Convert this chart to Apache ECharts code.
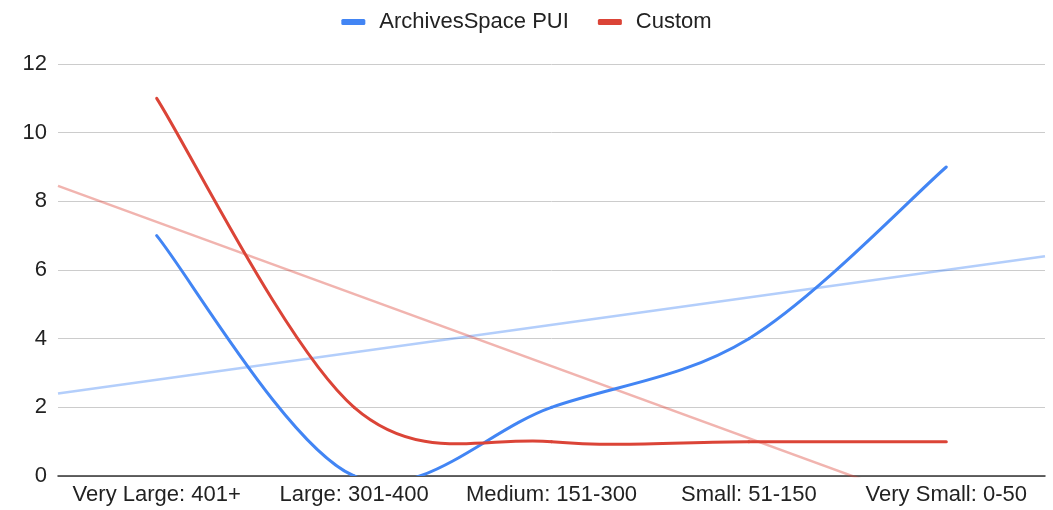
<!DOCTYPE html>
<html>
<head>
<meta charset="utf-8">
<script src="https://cdn.jsdelivr.net/npm/echarts@6/dist/echarts.min.js"></script>
<style>
html,body{margin:0;padding:0;background:#fff;}
#chart{width:1053px;height:510px;}
</style>
</head>
<body>
<div id="chart"></div>
<script>
var categories = ['Very Large: 401+', 'Large: 301-400', 'Medium: 151-300', 'Small: 51-150', 'Very Small: 0-50'];
var puiValues = [7, 0, 2, 4, 9];
var customValues = [11, 2, 1, 1, 1];
var yTicks = [0, 2, 4, 6, 8, 10, 12];

function trend(vals) {
  var n = vals.length, mx = 0, my = 0, i;
  for (i = 0; i < n; i++) { mx += i; my += vals[i]; }
  mx /= n; my /= n;
  var num = 0, den = 0;
  for (i = 0; i < n; i++) { num += (i - mx) * (vals[i] - my); den += (i - mx) * (i - mx); }
  var b = num / den, a = my - b * mx;
  return [[-0.5, a - 0.5 * b], [n - 0.5, a + (n - 0.5) * b]];
}

// Smooth (Catmull-Rom) segment renderer, positions come from the axes via api.coord
function splineRenderer(vals, color) {
  return function (params, api) {
    var i = params.dataIndex, n = vals.length;
    if (i >= n - 1) return null;
    function P(k) { k = Math.max(0, Math.min(n - 1, k)); return api.coord([k, vals[k]]); }
    var p0 = P(i - 1), p1 = P(i), p2 = P(i + 1), p3 = P(i + 2);
    return {
      type: 'bezierCurve',
      shape: {
        x1: p1[0], y1: p1[1], x2: p2[0], y2: p2[1],
        cpx1: p1[0] + (p2[0] - p0[0]) / 6, cpy1: p1[1] + (p2[1] - p0[1]) / 6,
        cpx2: p2[0] - (p3[0] - p1[0]) / 6, cpy2: p2[1] - (p3[1] - p1[1]) / 6
      },
      style: {stroke: color, lineWidth: 3, fill: null, lineCap: 'round'}
    };
  };
}
function pairs(vals) { return vals.map(function (v, i) { return [i, v]; }); }

var BLUE = '#4285f4', RED = '#db4437';
var chart = echarts.init(document.getElementById('chart'));
var font = 'Liberation Sans, Arial, sans-serif';
chart.setOption({
  animation: false,
  legend: {
    top: 6, left: 'center',
    data: [{name: 'ArchivesSpace PUI'}, {name: 'Custom'}],
    icon: 'roundRect', itemWidth: 24, itemHeight: 6, itemGap: 29,
    textStyle: {fontFamily: font, fontSize: 22, color: '#222', padding: [0, 0, 0, 9]}
  },
  grid: {left: 58, right: 8, top: 64, bottom: 34},
  xAxis: [{
    type: 'category', data: categories, boundaryGap: true,
    axisLine: {lineStyle: {color: '#333', width: 1.5}},
    axisTick: {show: false},
    axisLabel: {fontFamily: font, fontSize: 22, color: '#222', margin: 8, interval: 0}
  }, {
    type: 'value', min: -0.5, max: 4.5, show: false
  }],
  yAxis: {
    type: 'value', min: yTicks[0], max: yTicks[yTicks.length - 1], interval: 2,
    axisLine: {show: false}, axisTick: {show: false},
    splitLine: {lineStyle: {color: '#cccccc', width: 1}},
    axisLabel: {fontFamily: font, fontSize: 22, color: '#222', margin: 11}
  },
  series: [
    {name: 'ArchivesSpace PUI trend', type: 'line', xAxisIndex: 1, data: trend(puiValues),
     symbol: 'none', lineStyle: {color: BLUE, width: 2.5, opacity: 0.4}, itemStyle: {color: BLUE}, silent: true, z: 1},
    {name: 'Custom trend', type: 'line', xAxisIndex: 1, data: trend(customValues),
     symbol: 'none', lineStyle: {color: RED, width: 2.5, opacity: 0.4}, itemStyle: {color: RED}, silent: true, z: 1},
    {name: 'ArchivesSpace PUI', type: 'custom', data: pairs(puiValues), encode: {x: 0, y: 1},
     renderItem: splineRenderer(puiValues, BLUE), itemStyle: {color: BLUE}, clip: true, z: 3},
    {name: 'Custom', type: 'custom', data: pairs(customValues), encode: {x: 0, y: 1},
     renderItem: splineRenderer(customValues, RED), itemStyle: {color: RED}, clip: true, z: 3}
  ]
});
</script>
</body>
</html>
